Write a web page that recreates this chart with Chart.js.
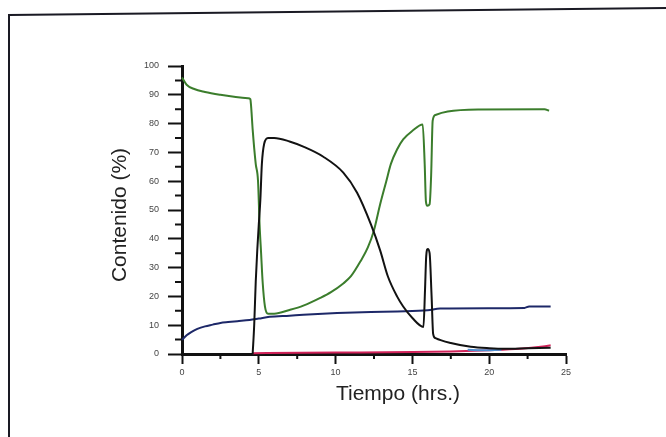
<!DOCTYPE html>
<html><head><meta charset="utf-8">
<script src="https://cdn.jsdelivr.net/npm/chart.js@4/dist/chart.umd.min.js"></script>
<style>html,body{margin:0;padding:0;background:#fff}#wrap{width:666px;height:437px}</style>
</head><body><div id="wrap"><canvas id="c" width="666" height="437"></canvas></div>
<script>
// ---- data ----
const xMajorTicks = [0, 5, 10, 15, 20, 25];
const xMinorTicks = [2.5, 7.5, 12.5, 17.5, 22.5];
const yMajorTicks = [0, 10, 20, 30, 40, 50, 60, 70, 80, 90, 100];
const yMinorTicks = [5, 15, 25, 35, 45, 55, 65, 75, 85, 95];

const greenTime  = [0, 0.3, 0.8, 1.5, 2.5, 3.5, 4.3, 4.45, 4.5, 4.6, 4.8, 4.95, 5.05, 5.15, 5.25, 5.4, 5.6, 6.0, 7.0, 7.9, 9.0, 9.7, 10.5, 11.0, 11.6, 12.1, 12.5, 12.9, 13.3, 13.6, 14.0, 14.4, 15.0, 15.67, 15.8, 15.88, 15.97, 16.12, 16.22, 16.32, 16.5, 17.3, 19.4, 23.6, 23.9];
const greenValue = [96, 93.5, 92, 91, 90, 89.2, 88.8, 88.5, 86, 78, 66, 60, 45, 35, 25, 16.5, 14, 14, 15.3, 16.8, 19.5, 21.5, 24.5, 27, 32, 37, 43, 52, 60, 66, 71, 74.5, 77.5, 79.7, 66, 53, 51.5, 52, 62, 81, 83, 84.2, 84.9, 85, 84.5];

const blackTime  = [4.6, 4.7, 4.8, 4.9, 5.0, 5.1, 5.2, 5.35, 5.6, 6.0, 7.0, 7.9, 9.2, 10.5, 11.4, 12.3, 12.9, 13.4, 14.0, 14.4, 15.0, 15.72, 15.82, 15.9, 16.0, 16.12, 16.25, 16.35, 16.5, 17.5, 18.8, 20.0, 21.0, 22.5, 24.0];
const blackValue = [0, 10, 25, 36, 45, 53.5, 66, 73, 75, 75, 73.8, 72, 68.5, 63, 56, 45, 36, 27, 20, 16.5, 12.5, 9.4, 22, 34, 36.5, 35, 20, 7, 5.5, 3.8, 2.5, 2, 1.8, 2, 2.2];

const blueTime  = [0, 0.3, 0.6, 1.0, 1.5, 2.0, 2.5, 3.0, 3.6, 4.4, 5.0, 5.7, 7.0, 7.9, 10.1, 12.3, 14.0, 16.0, 16.8, 20.0, 22.3, 22.6, 24.0];
const blueValue = [4.9, 6.5, 7.6, 8.7, 9.6, 10.2, 10.8, 11.1, 11.4, 11.8, 12.3, 12.9, 13.3, 13.6, 14.2, 14.6, 14.8, 15.2, 15.8, 15.9, 16, 16.5, 16.5];

const redTime  = [4.6, 10, 15, 17.5, 20, 22, 23.5, 24];
const redValue = [0.3, 0.5, 0.7, 0.9, 1.3, 1.8, 2.6, 3];

const lightBlueTime  = [18.6, 19.5, 20.8];
const lightBlueValue = [1.5, 1.3, 1.5];

const xTitle = 'Tiempo (hrs.)';
const yTitle = 'Contenido (%)';

function pts(t, v) { return t.map((x, i) => ({x: x, y: v[i]})); }

const framePlugin = {
  id: 'frame',
  beforeDraw(chart) {
    const ctx = chart.ctx;
    ctx.save();
    ctx.fillStyle = '#fff';
    ctx.fillRect(0, 0, chart.width, chart.height);
    ctx.strokeStyle = '#1a1a24';
    ctx.lineWidth = 2;
    ctx.beginPath();
    ctx.moveTo(9, chart.height);
    ctx.lineTo(9, 15);
    ctx.lineTo(chart.width, 8);
    ctx.stroke();
    ctx.restore();
  }
};

const minorTickPlugin = {
  id: 'minorTicks',
  beforeDatasetsDraw(chart) {
    const {ctx, scales: {x, y}} = chart;
    ctx.save();
    ctx.strokeStyle = '#111';
    ctx.lineWidth = 2;
    ctx.beginPath();
    xMinorTicks.forEach(v => { const p = x.getPixelForValue(v); ctx.moveTo(p, y.bottom); ctx.lineTo(p, y.bottom + 5); });
    yMinorTicks.forEach(v => { const p = y.getPixelForValue(v); ctx.moveTo(x.left - 7, p); ctx.lineTo(x.left, p); });
    ctx.stroke();
    ctx.restore();
  },
  afterDraw(chart) {
    const {ctx, chartArea} = chart;
    ctx.save();
    ctx.fillStyle = '#222';
    ctx.font = '21px "Liberation Sans", Arial, sans-serif';
    ctx.textAlign = 'center';
    ctx.textBaseline = 'middle';
    ctx.fillText(xTitle, chartArea.left + 216, chartArea.bottom + 40);
    ctx.translate(chartArea.left - 62, (chartArea.top + chartArea.bottom) / 2 + 5);
    ctx.rotate(-Math.PI / 2);
    ctx.fillText(yTitle, 0, 0);
    ctx.restore();
  }
};

const common = {pointRadius: 0, borderWidth: 2, cubicInterpolationMode: 'monotone', fill: false, clip: 6};

new Chart(document.getElementById('c'), {
  type: 'line',
  data: {
    datasets: [
      Object.assign({label: 'negro', data: pts(blackTime, blackValue), borderColor: '#121212'}, common),
      Object.assign({label: 'verde', data: pts(greenTime, greenValue), borderColor: '#3b7d2c'}, common),
      Object.assign({label: 'celeste', data: pts(lightBlueTime, lightBlueValue), borderColor: '#4d8fd0'}, common),
      Object.assign({label: 'azul', data: pts(blueTime, blueValue), borderColor: '#1d2868'}, common),
      Object.assign({label: 'rojo', data: pts(redTime, redValue), borderColor: '#d1235a', borderWidth: 2.5}, common)
    ]
  },
  options: {
    responsive: false,
    animation: false,
    layout: {padding: {left: 107, right: 100, top: 66, bottom: 33}},
    plugins: {legend: {display: false}, tooltip: {enabled: false}},
    scales: {
      x: {
        type: 'linear', min: 0, max: 25,
        afterFit(s) { s.height = 50; },
        afterBuildTicks(s) { s.ticks = xMajorTicks.map(v => ({value: v})); },
        border: {display: true, color: '#111', width: 3},
        grid: {drawOnChartArea: false, drawTicks: true, tickLength: 10, tickWidth: 2, tickColor: '#111'},
        ticks: {padding: 3, color: '#444', font: {family: '"Liberation Sans", Arial', size: 9}},
        title: {display: false}
      },
      y: {
        min: 0, max: 100,
        afterFit(s) { s.width = 75; },
        afterBuildTicks(s) { s.ticks = yMajorTicks.map(v => ({value: v})); },
        border: {display: true, color: '#111', width: 3},
        grid: {drawOnChartArea: false, drawTicks: true, tickLength: 14, tickWidth: 2, tickColor: '#111'},
        ticks: {padding: 9, color: '#444', font: {family: '"Liberation Sans", Arial', size: 9}},
        title: {display: false}
      }
    }
  },
  plugins: [framePlugin, minorTickPlugin]
});
</script>
</body></html>
